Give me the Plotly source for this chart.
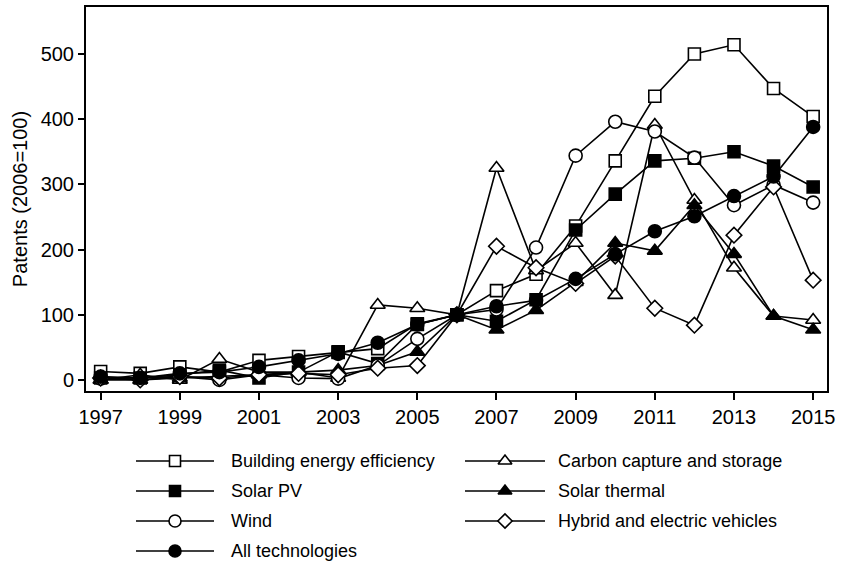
import plotly.graph_objects as go

# Patent counts indexed to 2006 = 100, by technology
years = list(range(1997, 2016))

building_eff = [13, 10, 20, 12, 30, 36, 42, 48, 86, 100, 137, 162, 236, 336, 435, 500, 514, 447, 404]
carbon_capture = [0, 8, 0, 32, 12, 12, 3, 115, 110, 100, 325, 168, 210, 130, 391, 276, 172, 98, 92]
solar_pv = [3, 3, 8, 15, 3, 12, 43, 25, 85, 100, 90, 123, 230, 285, 336, 340, 350, 328, 296]
solar_thermal = [0, 0, 3, 5, 8, 12, 15, 22, 43, 100, 77, 107, 150, 210, 198, 268, 193, 98, 77]
wind = [2, 3, 5, 0, 8, 3, 2, 22, 63, 100, 108, 203, 344, 396, 381, 341, 268, 299, 272]
hybrid_ev = [3, 0, 5, 3, 8, 10, 8, 18, 22, 100, 205, 172, 148, 190, 110, 84, 222, 296, 153]
all_tech = [5, 3, 10, 12, 20, 30, 40, 57, 85, 100, 113, 122, 155, 193, 228, 251, 282, 312, 388]

x_ticks = list(range(1997, 2016, 2))
y_ticks = [0, 100, 200, 300, 400, 500]

FONT = "Liberation Sans, Arial, sans-serif"
W, H = 845, 564
M_L, M_R, M_T, M_B = 86, 18, 7, 5
PLOT_H = H - M_T - M_B
AXIS_BOTTOM_PX = 391

# (name, values, symbol, filled, size, legend column, legend row)
series = [
    ("Building energy efficiency", building_eff, "square", False, 12, 0, 0),
    ("Carbon capture and storage", carbon_capture, "triangle-up", False, 13, 1, 0),
    ("Solar PV", solar_pv, "square", True, 12, 0, 1),
    ("Solar thermal", solar_thermal, "triangle-up", True, 13, 1, 1),
    ("Wind", wind, "circle", False, 13, 0, 2),
    ("Hybrid and electric vehicles", hybrid_ev, "diamond", False, 12, 1, 2),
    ("All technologies", all_tech, "circle", True, 13, 0, 3),
]

fig = go.Figure()

for name, vals, sym, filled, size, _, _ in series:
    fig.add_trace(go.Scatter(
        x=years, y=vals, name=name, mode="lines+markers",
        line=dict(color="black", width=1.6),
        marker=dict(symbol=sym, size=size,
                    color="black" if filled else "white",
                    line=dict(color="black", width=1.6)),
        showlegend=False, xaxis="x", yaxis="y",
    ))

# Legend keys drawn on a hidden pixel-scaled axis beneath the chart
col_line = [(136, 214), (465, 545)]
col_text = [229, 556]
row_y = [461, 491, 521, 551]
annotations = []
for name, vals, sym, filled, size, col, row in series:
    x0, x1 = col_line[col]
    yy = row_y[row]
    fig.add_trace(go.Scatter(
        x=[x0, x1], y=[yy, yy], mode="lines",
        line=dict(color="black", width=1.6),
        showlegend=False, hoverinfo="skip", xaxis="x2", yaxis="y2",
    ))
    fig.add_trace(go.Scatter(
        x=[(x0 + x1) / 2], y=[yy], mode="markers",
        marker=dict(symbol=sym, size=size - 1,
                    color="black" if filled else "white",
                    line=dict(color="black", width=1.6)),
        showlegend=False, hoverinfo="skip", xaxis="x2", yaxis="y2",
    ))
    annotations.append(dict(
        x=col_text[col], y=yy, xref="x2", yref="y2", text=name,
        showarrow=False, xanchor="left", yanchor="middle",
        font=dict(family=FONT, size=18, color="black"),
    ))

main_bottom = (H - M_B - AXIS_BOTTOM_PX) / PLOT_H
leg_top = 0.28
leg_top_px = (H - M_B) - leg_top * PLOT_H

fig.update_layout(
    width=W, height=H,
    margin=dict(l=M_L, r=M_R, t=M_T, b=M_B, pad=0),
    paper_bgcolor="white", plot_bgcolor="white",
    font=dict(family=FONT, size=20, color="black"),
    annotations=annotations,
    xaxis=dict(
        domain=[0, 1], range=[1996.63, 2015.35], anchor="y",
        tickmode="array", tickvals=x_ticks, ticktext=[str(t) for t in x_ticks],
        ticks="outside", ticklen=7, tickwidth=1.6, tickcolor="black",
        showline=True, linecolor="black", linewidth=2, mirror=True,
        showgrid=False, zeroline=False,
        tickfont=dict(family=FONT, size=20, color="black"),
    ),
    yaxis=dict(
        domain=[main_bottom, 1], range=[-17, 572], anchor="x",
        tickmode="array", tickvals=y_ticks, ticktext=[str(t) for t in y_ticks],
        ticks="outside", ticklen=6, tickwidth=1.6, tickcolor="black",
        showline=True, linecolor="black", linewidth=2, mirror=True,
        showgrid=False, zeroline=False,
        tickfont=dict(family=FONT, size=20, color="black"),
        title=dict(text="Patents (2006=100)", standoff=8,
                   font=dict(family=FONT, size=20, color="black")),
    ),
    xaxis2=dict(domain=[0, 1], range=[M_L, W - M_R], anchor="y2", visible=False),
    yaxis2=dict(domain=[0, leg_top], range=[H - M_B, leg_top_px], anchor="x2", visible=False),
)

fig.write_html("out.html")
